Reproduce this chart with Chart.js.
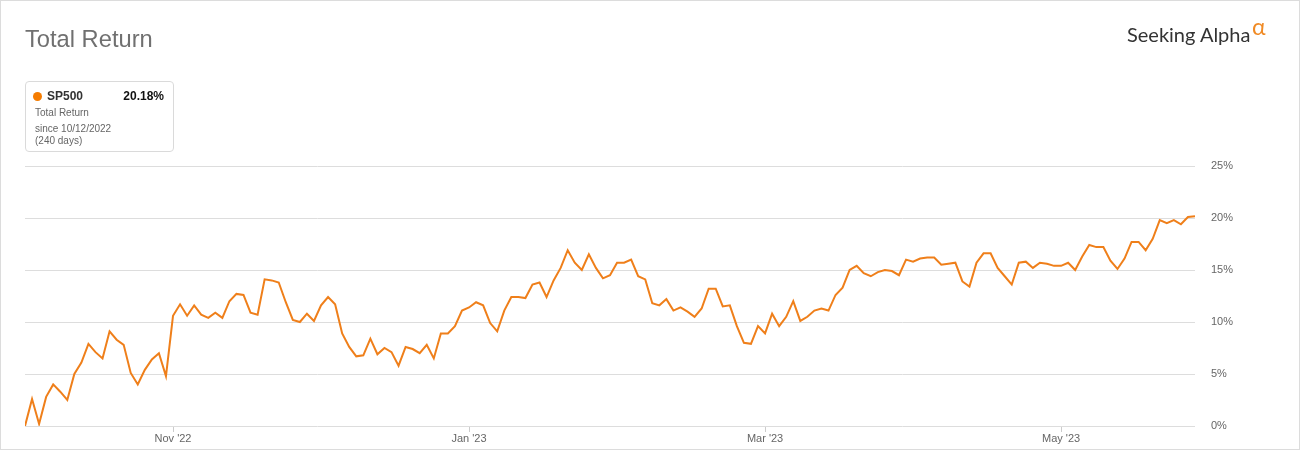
<!DOCTYPE html>
<html>
<head>
<meta charset="utf-8">
<script src="https://cdn.jsdelivr.net/npm/chart.js@4.4.0/dist/chart.umd.min.js"></script>
<style>
  html, body { margin: 0; padding: 0; background: #fff; }
  body { width: 1300px; height: 450px; position: relative; overflow: hidden; font-family: 'Liberation Sans', Arial, sans-serif; }
  #frame { position: absolute; left: 0; top: 0; width: 1298px; height: 448px; border: 1px solid #dcdcdc; pointer-events: none; }
  #chart { position: absolute; left: 0; top: 0; }
  #title { position: absolute; left: 25px; top: 26px; font-size: 23.7px; color: #707070; white-space: nowrap; }
  #logo { position: absolute; left: 1127px; top: 22px; font-family: Lato, 'Open Sans', sans-serif; font-size: 20px; color: #333; white-space: nowrap; }
  #logo .alpha { color: #f08a24; position: absolute; left: 125px; top: -10px; font-size: 23px; }
  #legend { position: absolute; left: 25px; top: 81px; width: 149px; height: 71px; box-sizing: border-box; border: 1px solid #dadada; border-radius: 4px; }
  #legend .dot { position: absolute; left: 7px; top: 10px; width: 9px; height: 9px; border-radius: 50%; background: #f57c00; }
  #legend .name { position: absolute; left: 21px; top: 7px; font-size: 12px; line-height: 14px; font-weight: bold; color: #333; }
  #legend .val { position: absolute; right: 9px; top: 7px; font-size: 12px; line-height: 14px; font-weight: bold; color: #111; }
  #legend .sub { position: absolute; left: 9px; font-size: 10px; line-height: 12px; color: #666; white-space: nowrap; }
</style>
</head>
<body>
<canvas id="chart" width="1300" height="450"></canvas>
<div id="title">Total Return</div>
<div id="logo">Seeking Alpha<span class="alpha">α</span></div>
<div id="legend">
  <span class="dot"></span>
  <span class="name">SP500</span>
  <span class="val">20.18%</span>
  <div class="sub" style="top:25px">Total Return</div>
  <div class="sub" style="top:41px">since 10/12/2022</div>
  <div class="sub" style="top:53px">(240 days)</div>
</div>
<div id="frame"></div>
<script>
// SP500 total return since 10/12/2022, one value per trading day (%)
const returns = [
  0.0, 2.6, 0.2, 2.8, 4.0, 3.3, 2.5, 5.0, 6.1, 7.9,
  7.1, 6.5, 9.1, 8.3, 7.8, 5.1, 4.0, 5.4, 6.4, 7.0,
  4.8, 10.6, 11.7, 10.6, 11.6, 10.7, 10.4, 10.9, 10.4, 12.0,
  12.7, 12.6, 10.9, 10.7, 14.1, 14.0, 13.8, 11.9, 10.2, 10.0,
  10.8, 10.1, 11.6, 12.4, 11.7, 8.9, 7.6, 6.7, 6.8, 8.4,
  6.9, 7.5, 7.1, 5.8, 7.6, 7.4, 7.0, 7.8, 6.5, 8.9,
  8.9, 9.6, 11.1, 11.4, 11.9, 11.6, 9.9, 9.1, 11.1, 12.4,
  12.4, 12.3, 13.6, 13.8, 12.4, 14.0, 15.2, 16.9, 15.7, 15.0,
  16.5, 15.2, 14.2, 14.5, 15.7, 15.7, 16.0, 14.4, 14.1, 11.8,
  11.6, 12.2, 11.1, 11.4, 11.0, 10.5, 11.3, 13.2, 13.2, 11.5,
  11.6, 9.6, 8.0, 7.9, 9.6, 8.9, 10.8, 9.6, 10.5, 12.0,
  10.1, 10.5, 11.1, 11.3, 11.1, 12.6, 13.3, 15.0, 15.4, 14.7,
  14.4, 14.8, 15.0, 14.9, 14.5, 16.0, 15.8, 16.1, 16.2, 16.2,
  15.5, 15.6, 15.7, 13.9, 13.4, 15.7, 16.6, 16.6, 15.2, 14.4,
  13.6, 15.7, 15.8, 15.2, 15.7, 15.6, 15.4, 15.4, 15.7, 15.0,
  16.3, 17.4, 17.2, 17.2, 15.9, 15.1, 16.1, 17.7, 17.7, 16.9,
  18.0, 19.8, 19.5, 19.8, 19.4, 20.1, 20.18
];

// month ticks sit at these trading-day positions
const tickIndex = [21, 63, 105, 147];
const tickLabels = ["Nov '22", "Jan '23", "Mar '23", "May '23"];

const yTicks = [0, 5, 10, 15, 20, 25];

const axisFont = { family: "'Liberation Sans', Arial, sans-serif", size: 11 };

new Chart(document.getElementById('chart'), {
  type: 'line',
  data: {
    datasets: [{
      label: 'SP500',
      data: returns.map((v, i) => ({ x: i, y: v })),
      borderColor: '#ef7f1a',
      borderWidth: 2,
      pointRadius: 0,
      tension: 0,
      fill: false
    }]
  },
  options: {
    responsive: false,
    animation: false,
    layout: { padding: { left: 25, top: 166, right: 0, bottom: 0 } },
    plugins: { legend: { display: false }, tooltip: { enabled: false } },
    scales: {
      x: {
        type: 'linear',
        min: 0,
        max: returns.length - 1,
        afterBuildTicks: scale => { scale.ticks = tickIndex.map(v => ({ value: v })); },
        afterFit: scale => { scale.height = 24; },
        grid: { drawOnChartArea: false, drawTicks: true, tickLength: 6, color: '#cccccc' },
        border: { display: false },
        ticks: {
          autoSkip: false,
          maxRotation: 0,
          padding: 0,
          color: '#666',
          font: axisFont,
          callback: v => tickLabels[tickIndex.indexOf(v)]
        }
      },
      y: {
        position: 'right',
        min: 0,
        max: 25,
        afterBuildTicks: scale => { scale.ticks = yTicks.map(v => ({ value: v })); },
        afterFit: scale => { scale.width = 105; },
        grid: { color: '#dddddd', drawTicks: false },
        border: { display: false },
        ticks: {
          padding: 16,
          color: '#666',
          font: axisFont,
          callback: v => v + '%'
        }
      }
    }
  }
});
</script>
</body>
</html>
